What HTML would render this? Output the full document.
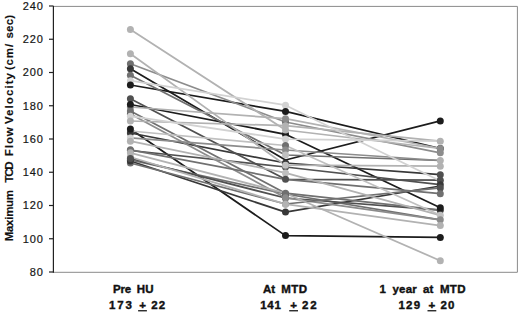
<!DOCTYPE html>
<html><head><meta charset="utf-8"><style>
html,body{margin:0;padding:0;background:#fff;width:520px;height:313px;overflow:hidden}
svg{display:block}
text{font-family:"Liberation Sans",sans-serif}
.yl text{font-size:11px;text-anchor:end;letter-spacing:0.9px;fill:#151515;stroke:#151515;stroke-width:0.2px}
.cat{font-size:11px;font-weight:bold;fill:#111;text-anchor:middle}
.tt text{font-size:11.5px;font-weight:bold;fill:#111;stroke:#111;stroke-width:0.15px}
.cw text{font-size:11.5px;font-weight:bold;fill:#111;stroke:#111;stroke-width:0.4px}
</style></head><body>
<svg width="520" height="313" viewBox="0 0 520 313">
<rect x="0" y="0" width="520" height="313" fill="#fff"/>
<path d="M53.5 6.4H517.4V272.3H53.5" fill="none" stroke="#8a8a8a" stroke-width="1"/>
<g fill="none" stroke-width="1.75" stroke-linejoin="round">
<polyline points="130.4,68.8 285.5,160.0 440.3,120.9" stroke="#1c1c1c"/><polyline points="130.4,85.0 285.5,111.4 440.3,148.5" stroke="#1c1c1c"/><polyline points="130.4,104.5 285.5,134.3 440.3,207.7" stroke="#1c1c1c"/><polyline points="130.4,129.0 285.5,235.6 440.3,237.4" stroke="#1c1c1c"/><polyline points="130.4,161.0 285.5,212.1 440.3,186.0" stroke="#383838"/><polyline points="130.4,133.0 285.5,163.0 440.3,174.7" stroke="#383838"/><polyline points="130.4,160.0 285.5,194.0 440.3,219.8" stroke="#707070"/><polyline points="130.4,98.7 285.5,179.3 440.3,180.2" stroke="#505050"/><polyline points="130.4,150.5 285.5,167.0 440.3,184.7" stroke="#505050"/><polyline points="130.4,158.5 285.5,198.0 440.3,210.2" stroke="#505050"/><polyline points="130.4,114.0 285.5,197.8 440.3,219.8" stroke="#8c8c8c"/><polyline points="130.4,149.8 285.5,179.3 440.3,193.7" stroke="#707070"/><polyline points="130.4,163.0 285.5,204.0 440.3,187.9" stroke="#707070"/><polyline points="130.4,111.1 285.5,193.2 440.3,210.2" stroke="#707070"/><polyline points="130.4,63.8 285.5,122.0 440.3,152.8" stroke="#8c8c8c"/><polyline points="130.4,75.3 285.5,155.0 440.3,160.5" stroke="#707070"/><polyline points="130.4,107.0 285.5,118.7 440.3,148.5" stroke="#b2b2b2"/><polyline points="130.4,137.9 285.5,150.0 440.3,160.5" stroke="#8c8c8c"/><polyline points="130.4,141.2 285.5,172.9 440.3,215.3" stroke="#b2b2b2"/><polyline points="130.4,121.0 285.5,125.7 440.3,141.2" stroke="#b2b2b2"/><polyline points="130.4,131.0 285.5,145.5 440.3,215.3" stroke="#c0c0c0"/><polyline points="130.4,29.6 285.5,130.0 440.3,148.5" stroke="#b2b2b2"/><polyline points="130.4,53.8 285.5,165.2 440.3,166.2" stroke="#b2b2b2"/><polyline points="130.4,152.8 285.5,193.2 440.3,260.7" stroke="#b2b2b2"/><polyline points="130.4,157.0 285.5,204.2 440.3,225.6" stroke="#b2b2b2"/><polyline points="130.4,116.2 285.5,139.1 440.3,141.2" stroke="#d2d2d2"/><polyline points="130.4,80.7 285.5,105.2 440.3,181.0" stroke="#d2d2d2"/>
</g>
<g>
<circle cx="130.4" cy="131.0" r="3.5" fill="#c0c0c0"/><circle cx="130.4" cy="133.0" r="3.5" fill="#383838"/><circle cx="130.4" cy="150.5" r="3.5" fill="#505050"/><circle cx="130.4" cy="157.0" r="3.5" fill="#b2b2b2"/><circle cx="130.4" cy="160.0" r="3.5" fill="#383838"/><circle cx="130.4" cy="107.0" r="3.5" fill="#8c8c8c"/><circle cx="130.4" cy="114.0" r="3.5" fill="#505050"/><circle cx="130.4" cy="29.6" r="3.5" fill="#b2b2b2"/><circle cx="130.4" cy="53.8" r="3.5" fill="#b2b2b2"/><circle cx="130.4" cy="63.8" r="3.5" fill="#707070"/><circle cx="130.4" cy="68.8" r="3.5" fill="#383838"/><circle cx="130.4" cy="75.3" r="3.5" fill="#707070"/><circle cx="130.4" cy="80.7" r="3.5" fill="#d2d2d2"/><circle cx="130.4" cy="85.0" r="3.5" fill="#1c1c1c"/><circle cx="130.4" cy="98.7" r="3.5" fill="#505050"/><circle cx="130.4" cy="104.5" r="3.5" fill="#1c1c1c"/><circle cx="130.4" cy="111.1" r="3.5" fill="#707070"/><circle cx="130.4" cy="116.2" r="3.5" fill="#d2d2d2"/><circle cx="130.4" cy="121.0" r="3.5" fill="#b2b2b2"/><circle cx="130.4" cy="129.0" r="3.5" fill="#1c1c1c"/><circle cx="130.4" cy="137.9" r="3.5" fill="#d2d2d2"/><circle cx="130.4" cy="141.2" r="3.5" fill="#b2b2b2"/><circle cx="130.4" cy="149.8" r="3.5" fill="#707070"/><circle cx="130.4" cy="152.8" r="3.5" fill="#b2b2b2"/><circle cx="130.4" cy="163.0" r="3.5" fill="#707070"/><circle cx="130.4" cy="161.0" r="3.5" fill="#383838"/><circle cx="130.4" cy="158.5" r="3.5" fill="#505050"/><circle cx="285.5" cy="163.0" r="3.5" fill="#383838"/><circle cx="285.5" cy="167.0" r="3.5" fill="#505050"/><circle cx="285.5" cy="122.0" r="3.5" fill="#707070"/><circle cx="285.5" cy="194.0" r="3.5" fill="#383838"/><circle cx="285.5" cy="198.0" r="3.5" fill="#505050"/><circle cx="285.5" cy="204.0" r="3.5" fill="#707070"/><circle cx="285.5" cy="105.2" r="3.5" fill="#d2d2d2"/><circle cx="285.5" cy="111.4" r="3.5" fill="#1c1c1c"/><circle cx="285.5" cy="118.7" r="3.5" fill="#8c8c8c"/><circle cx="285.5" cy="125.7" r="3.5" fill="#b2b2b2"/><circle cx="285.5" cy="134.3" r="3.5" fill="#1c1c1c"/><circle cx="285.5" cy="139.1" r="3.5" fill="#d2d2d2"/><circle cx="285.5" cy="145.5" r="3.5" fill="#707070"/><circle cx="285.5" cy="150.0" r="3.5" fill="#8c8c8c"/><circle cx="285.5" cy="155.0" r="3.5" fill="#c0c0c0"/><circle cx="285.5" cy="165.2" r="3.5" fill="#c0c0c0"/><circle cx="285.5" cy="172.9" r="3.5" fill="#c0c0c0"/><circle cx="285.5" cy="179.3" r="3.5" fill="#505050"/><circle cx="285.5" cy="193.2" r="3.5" fill="#707070"/><circle cx="285.5" cy="197.8" r="3.5" fill="#8c8c8c"/><circle cx="285.5" cy="204.2" r="3.5" fill="#b2b2b2"/><circle cx="285.5" cy="212.1" r="3.5" fill="#383838"/><circle cx="285.5" cy="235.6" r="3.5" fill="#1c1c1c"/><circle cx="285.5" cy="130.0" r="3.5" fill="#b2b2b2"/><circle cx="440.3" cy="148.5" r="3.5" fill="#1c1c1c"/><circle cx="440.3" cy="181.0" r="3.5" fill="#d2d2d2"/><circle cx="440.3" cy="120.9" r="3.5" fill="#1c1c1c"/><circle cx="440.3" cy="141.2" r="3.5" fill="#b2b2b2"/><circle cx="440.3" cy="148.5" r="3.5" fill="#8c8c8c"/><circle cx="440.3" cy="152.8" r="3.5" fill="#8c8c8c"/><circle cx="440.3" cy="160.5" r="3.5" fill="#b2b2b2"/><circle cx="440.3" cy="166.2" r="3.5" fill="#b2b2b2"/><circle cx="440.3" cy="174.7" r="3.5" fill="#505050"/><circle cx="440.3" cy="180.2" r="3.5" fill="#505050"/><circle cx="440.3" cy="184.7" r="3.5" fill="#383838"/><circle cx="440.3" cy="187.9" r="3.5" fill="#505050"/><circle cx="440.3" cy="193.7" r="3.5" fill="#707070"/><circle cx="440.3" cy="210.2" r="3.5" fill="#383838"/><circle cx="440.3" cy="207.7" r="3.5" fill="#1c1c1c"/><circle cx="440.3" cy="215.3" r="3.5" fill="#c0c0c0"/><circle cx="440.3" cy="219.8" r="3.5" fill="#8c8c8c"/><circle cx="440.3" cy="225.6" r="3.5" fill="#b2b2b2"/><circle cx="440.3" cy="237.4" r="3.5" fill="#1c1c1c"/><circle cx="440.3" cy="260.7" r="3.5" fill="#b2b2b2"/>
</g>
<g stroke="#222" stroke-width="1.2">
<line x1="53.4" y1="6" x2="53.4" y2="272.8"/>
<line x1="49" y1="6.00" x2="53.5" y2="6.00"/><line x1="49" y1="39.25" x2="53.5" y2="39.25"/><line x1="49" y1="72.50" x2="53.5" y2="72.50"/><line x1="49" y1="105.75" x2="53.5" y2="105.75"/><line x1="49" y1="139.00" x2="53.5" y2="139.00"/><line x1="49" y1="172.25" x2="53.5" y2="172.25"/><line x1="49" y1="205.50" x2="53.5" y2="205.50"/><line x1="49" y1="238.75" x2="53.5" y2="238.75"/><line x1="49" y1="272.00" x2="53.5" y2="272.00"/>
</g>
<g class="yl"><text x="43.8" y="9.90">240</text><text x="43.8" y="43.15">220</text><text x="43.8" y="76.40">200</text><text x="43.8" y="109.65">180</text><text x="43.8" y="142.90">160</text><text x="43.8" y="176.15">140</text><text x="43.8" y="209.40">120</text><text x="43.8" y="242.65">100</text><text x="43.8" y="275.90">80</text></g>
<g class="tt"><text transform="translate(13.3,241.29999999999998) rotate(-90)" textLength="51.4" lengthAdjust="spacing">Maximum</text><text transform="translate(13.3,182.6) rotate(-90)" textLength="21.2" lengthAdjust="spacing">TCD</text><text transform="translate(13.3,156.2) rotate(-90)" textLength="29.0" lengthAdjust="spacing">Flow</text><text transform="translate(13.3,124.1) rotate(-90)" textLength="51.1" lengthAdjust="spacing">Velocity</text><text transform="translate(13.3,70.1) rotate(-90)" textLength="26.2" lengthAdjust="spacing">(cm/</text><text transform="translate(13.3,38.6) rotate(-90)" textLength="23.8" lengthAdjust="spacing">sec)</text></g>
<g class="cw"><text x="113.1" y="292.5" style="letter-spacing:-0.2px">Pre</text><text x="136.7" y="292.5" style="letter-spacing:0.35px">HU</text><text x="263.1" y="292.5" style="letter-spacing:-0.2px">At</text><text x="281.3" y="292.5" style="letter-spacing:0.4px">MTD</text><text x="379.4" y="292.5" style="letter-spacing:-0.2px">1</text><text x="392.4" y="292.5" style="letter-spacing:0.25px">year</text><text x="422.9" y="292.5" style="letter-spacing:0.25px">at</text><text x="439.9" y="292.5" style="letter-spacing:0.4px">MTD</text><text x="109.0" y="308.8" style="letter-spacing:1.8px">173</text><text x="151.25" y="308.8" style="letter-spacing:1.0px">22</text><text x="260.25" y="308.8" style="letter-spacing:0.7px">141</text><text x="301.9" y="308.8" style="letter-spacing:2.0px">22</text><text x="398.4" y="308.8" style="letter-spacing:1.3px">129</text><text x="440.6" y="308.8" style="letter-spacing:1.0px">20</text><text x="142.5" y="308.8" style="text-anchor:middle">+</text><text x="293.6" y="308.8" style="text-anchor:middle">+</text><text x="431.9" y="308.8" style="text-anchor:middle">+</text></g>
<g fill="#1a1a1a">
<rect x="138.1" y="310.1" width="8.8" height="1.3"/>
<rect x="289.2" y="310.1" width="8.8" height="1.3"/>
<rect x="427.5" y="310.1" width="8.8" height="1.3"/>
</g>
</svg>
</body></html>
